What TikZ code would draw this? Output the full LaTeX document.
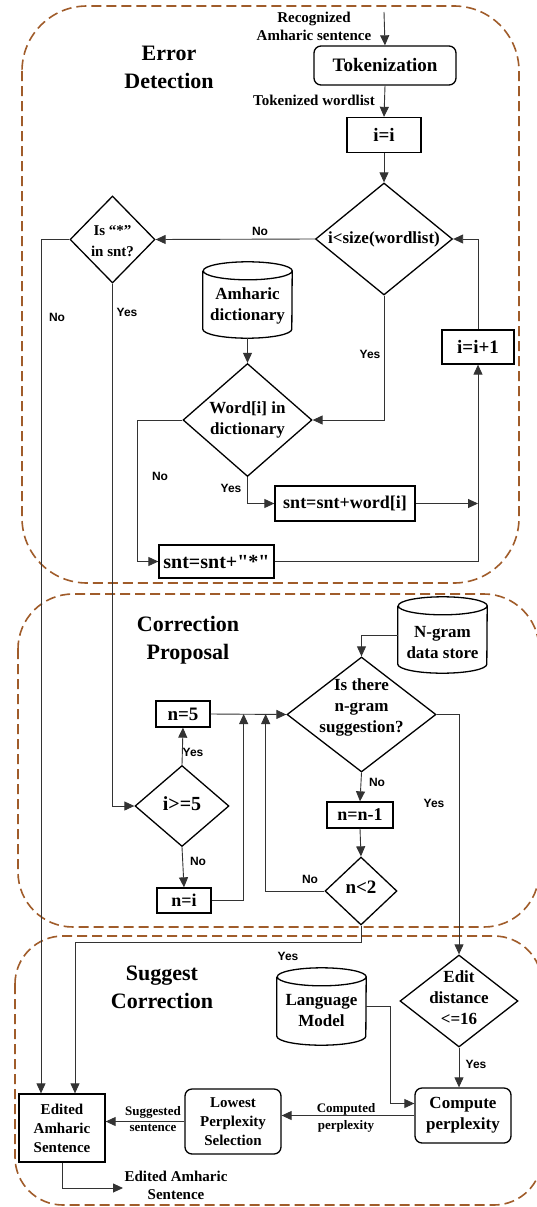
\documentclass[tikz,border=0pt]{standalone}
\usepackage{fontspec}
\setmainfont{Liberation Serif}
\newfontfamily\lblfont{Liberation Sans}
\usetikzlibrary{arrows.meta,shapes.geometric}
\definecolor{stagebrown}{RGB}{160,92,42}

\newcommand{\dtext}[2][0pt]{\makebox[0pt]{\raisebox{#1}[\height][\depth]{\begin{tabular}{@{}c@{}}#2\end{tabular}}}}
\newcommand{\drumtext}[2]{\raisebox{-#1}[\height][\depth]{\begin{tabular}{@{}c@{}}#2\end{tabular}}}
\newcommand{\drum}[1]{\draw[line width=1.3pt] ([yshift=-9pt]#1.north west) -- ([yshift=9pt]#1.south west)
  arc[start angle=180,end angle=360,x radius=44.5pt,y radius=9pt] -- ([yshift=-9pt]#1.north east)
  arc[start angle=0,end angle=360,x radius=44.5pt,y radius=9pt];}

\tikzset{
  stage/.style={draw=stagebrown, line width=1.6pt, dash pattern=on 10pt off 5pt},
  stagetitle/.style={font=\bfseries\fontsize{22}{28}\selectfont, align=center, inner sep=0pt},
  proc/.style={draw, line width=1.3pt, inner sep=0pt, align=center, font=\bfseries\fontsize{18}{22}\selectfont},
  rproc/.style={proc, rounded corners=7pt},
  decide/.style={diamond, draw, line width=1.3pt, inner sep=0pt, font=\bfseries\fontsize{17}{21}\selectfont},
  store/.style={inner sep=0pt, minimum width=89pt, minimum height=76pt, font=\bfseries\fontsize{17}{21}\selectfont},
  flow/.style={line width=0.9pt, draw=black!80, -{Triangle[length=10pt,width=9pt]}},
  link/.style={line width=0.9pt, draw=black!80},
  yn/.style={font=\lblfont\bfseries\fontsize{12}{14}\selectfont, inner sep=0pt},
  note/.style={font=\bfseries\fontsize{15}{18}\selectfont, align=center, inner sep=0pt},
}

\begin{document}
\begin{tikzpicture}[x=1pt,y=-1pt]
\useasboundingbox (0,0) rectangle (537,1207);

% the three stages
\draw[stage, rounded corners=65pt] (22,6) rectangle (519,583);
\draw[stage, rounded corners=55pt] (18,594) rectangle (539,927);
\draw[stage, rounded corners=48pt] (15,936) rectangle (542,1205);
\node[stagetitle] (tErr) at (169,67) {Error\\Detection};
\node[stagetitle] (tCor) at (188,640) {Correction\\Proposal};
\node[stagetitle] (tSug) at (162,987) {Suggest\\Correction};

% error detection
\coordinate (input) at (384,12);
\node[note] (lInput) at (314,26) {Recognized\\Amharic sentence};
\node[rproc, minimum width=142pt, minimum height=39pt, font=\bfseries\fontsize{19}{23}\selectfont] (tok) at (385,65.5) {Tokenization};
\node[note] (lTok) at (314,100) {Tokenized wordlist};
\node[proc, minimum width=74pt, minimum height=35pt, font=\bfseries\fontsize{19}{23}\selectfont] (init) at (384,135) {i=i};
\node[decide, minimum width=137pt, minimum height=112pt] (loop) at (384,239) {\dtext{i<size(wordlist)}};
\node[decide, minimum width=85pt, minimum height=87pt, font=\bfseries\fontsize{15}{21}\selectfont] (star) at (112.5,239.5) {\dtext[-2pt]{Is “*”\\in snt?}};
\node[store] (dict) at (247.5,300) {\drumtext{6pt}{Amharic\\dictionary}};
\drum{dict}
\node[decide, minimum width=129pt, minimum height=113pt] (word) at (247.5,420) {\dtext{Word[i] in\\dictionary}};
\node[proc, minimum width=72pt, minimum height=34pt, font=\bfseries\fontsize{19}{23}\selectfont] (inc) at (478,347) {i=i+1};
\node[proc, minimum width=140pt, minimum height=35pt] (addw) at (345,503.5) {snt=snt+word[i]};
\node[proc, minimum width=115pt, minimum height=33pt, font=\bfseries\fontsize{20}{24}\selectfont\addfontfeature{Ligatures=TeXOff}] (adds) at (216.5,561.5) {snt=snt+"*"};

% correction proposal
\node[store] (ngram) at (442.5,635) {\drumtext{9pt}{N-gram\\data store}};
\drum{ngram}
\node[decide, minimum width=149pt, minimum height=115pt] (sugg) at (361.5,714.5) {\dtext[7pt]{Is there\\n-gram\\suggestion?}};
\node[proc, minimum width=54pt, minimum height=26pt, font=\bfseries\fontsize{19}{23}\selectfont] (n5) at (183,714) {n=5};
\node[decide, minimum width=94pt, minimum height=81pt, font=\bfseries\fontsize{20}{24}\selectfont] (ige5) at (182,806) {\dtext{i>=5}};
\node[proc, minimum width=54pt, minimum height=25pt] (ni) at (184,900.5) {n=i};
\node[proc, minimum width=66pt, minimum height=26pt] (nm1) at (360,815) {n=n-1};
\node[decide, minimum width=72pt, minimum height=68pt, font=\bfseries\fontsize{19}{23}\selectfont] (nl2) at (361,891) {\dtext[2pt]{n<2}};

% suggest correction
\node[store, minimum height=77pt] (lm) at (321.5,1006.5) {\drumtext{5pt}{Language\\Model}};
\drum{lm}
\node[decide, minimum width=118pt, minimum height=92pt] (edit) at (459,1001) {\dtext[2pt]{Edit\\distance\\<=16}};
\node[rproc, minimum width=96pt, minimum height=55pt, font=\bfseries\fontsize{17}{21}\selectfont] (comp) at (463,1115.5) {Compute\\perplexity};
\node[rproc, minimum width=96pt, minimum height=65pt, font=\bfseries\fontsize{15}{19}\selectfont] (low) at (233,1121.5) {Lowest\\Perplexity\\Selection};
\node[proc, minimum width=86pt, minimum height=68pt, font=\bfseries\fontsize{15}{19}\selectfont] (edited) at (62,1128) {Edited\\Amharic\\Sentence};
\coordinate (output) at (123,1188);
\node[note] (lOut) at (176,1185.5) {Edited Amharic\\Sentence};

% connectors
\draw[flow] (input) -- (tok.north);
\draw[flow] (tok.south) -- (init.north);
\draw[flow] (init.south) -- (loop.north);
\draw[flow] (loop.west) -- (star.east);
\draw[flow] (star.west) -| ([xshift=-21pt]edited.north);
\draw[flow] (star.south) |- (ige5.west);
\draw[flow] (dict.south) -- (word.north);
\draw[flow] (loop.south) |- (word.east);
\draw[flow] (word.south) |- (addw.west);
\draw[flow] (word.west) -- ++(-45,0) |- (adds.west);
\draw[flow] (addw.east) -- (addw.east -| inc.south);
\draw[flow] (adds.east) -| (inc.south);
\draw[flow] (inc.north) |- (loop.east);
\draw[flow] (ngram.west) -| (sugg.north);
\draw[flow] (n5.east) -- (sugg.west);
\draw[flow] (ige5.north) -- (n5.south);
\draw[flow] (ige5.south) -- (ni.north);
\draw[flow] (ni.east) -| ([xshift=33pt]n5.east);
\draw[flow] (sugg.south) -- (nm1.north);
\draw[flow] (nm1.south) -- (nl2.north);
\draw[flow] (nl2.west) -| ([xshift=55pt]n5.east);
\draw[flow] (nl2.south) -- ++(0,17) -| ([xshift=13pt]edited.north);
\draw[flow] (sugg.east) -| (edit.north);
\draw[flow] (edit.south) -- (edit.south |- comp.north);
\draw[flow] (lm.east) -- ++(24,0) |- ([yshift=12pt]comp.west);
\draw[flow] (comp.west) -- (comp.west -| low.east);
\draw[flow] (low.west) -- (low.west -| edited.east);
\draw[flow] (edited.south) |- (output);

% branch labels
\node[yn] (yn1) at (260,231) {No};
\node[yn] (yn2) at (57,317) {No};
\node[yn] (yn3) at (127,312) {Yes};
\node[yn] (yn4) at (370,354) {Yes};
\node[yn] (yn5) at (160,476) {No};
\node[yn] (yn6) at (231,488) {Yes};
\node[yn] (yn7) at (193,752) {Yes};
\node[yn] (yn8) at (198,861) {No};
\node[yn] (yn9) at (377,782) {No};
\node[yn] (yn10) at (434,803) {Yes};
\node[yn] (yn11) at (310,879) {No};
\node[yn] (yn12) at (288,956) {Yes};
\node[yn] (yn13) at (476,1064) {Yes};
\node[font=\bfseries\fontsize{13}{17}\selectfont, align=center, inner sep=0pt] (lComp) at (346,1117.5) {Computed\\perplexity};
\node[font=\bfseries\fontsize{13}{16}\selectfont, align=center, inner sep=0pt] (lSugg) at (153,1119) {Suggested\\sentence};
\end{tikzpicture}
\end{document}
